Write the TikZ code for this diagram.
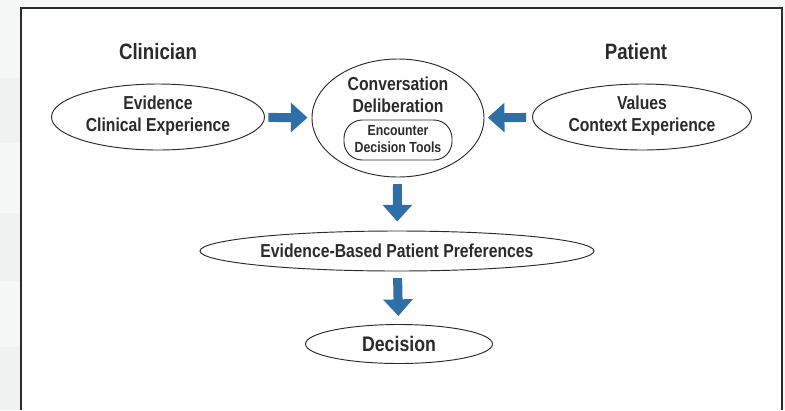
\documentclass[tikz,border=0pt]{standalone}
\usepackage{fontspec}
\setmainfont{Liberation Sans}[FakeStretch=0.84]
\usetikzlibrary{shapes.geometric,arrows.meta}

\definecolor{arrowblue}{HTML}{2F6FA8}
\definecolor{textgray}{HTML}{2B2B2B}
\definecolor{bandgray}{HTML}{F0F1F1}
\definecolor{stripgray}{HTML}{F6F7F7}

\tikzset{
  heading/.style={text=textgray, font=\bfseries\fontsize{19}{21}\selectfont},
  body/.style={text=textgray, align=center, font=\bfseries\fontsize{16}{19}\selectfont},
  small/.style={text=textgray, align=center, font=\bfseries\fontsize{12.5}{14.5}\selectfont},
  bubble/.style={draw=textgray, ellipse, line width=0.8pt, inner sep=0pt},
  toolbox/.style={draw=textgray, rounded corners=0.55cm, line width=0.8pt, inner sep=0pt,
    minimum width=3.24cm, minimum height=1.2cm},
  bluearrow/.style={draw=arrowblue, line width=0.27cm, -{Triangle[width=0.86cm,length=0.5cm]}}
}

\begin{document}
\begin{tikzpicture}[x=0.03cm, y=-0.03cm]
    \useasboundingbox (0,0) rectangle (785,410);

    % Background and frame
    \fill[stripgray] (0,0) rectangle (785,410);
    \fill[bandgray] (0,78) rectangle (21,143);
    \fill[bandgray] (0,213) rectangle (21,281);
    \fill[bandgray] (0,347) rectangle (21,410);
    \fill[white] (21,8) rectangle (782,410);
    \draw[line width=1.6pt, textgray] (21,410) -- (21,8) -- (782,8) -- (782,410);

    % Headings
    \node[heading] (clinician) at (158,52) {Clinician};
    \node[heading] (patient) at (636,52) {Patient};

    % Clinician and patient sides
    \node[bubble, minimum width=6.39cm, minimum height=1.98cm] (clin) at (158,117) {};
    \node[body] (clintext) at (158,116) {Evidence\\Clinical Experience};
    \node[bubble, minimum width=6.57cm, minimum height=1.98cm] (pat) at (642,117) {};
    \node[body] (pattext) at (642,116) {Values\\Context Experience};

    % Conversation in the middle
    \node[bubble, minimum width=5.16cm, minimum height=3.54cm] (conv) at (398,118) {};
    \node[body] (convtext) at (398,95) {Conversation\\Deliberation};
    \node[toolbox] (tools) at (398,140) {};
    \node[small] (toolstext) at (398,139) {Encounter\\Decision Tools};

    % Outcome
    \node[bubble, minimum width=11.82cm, minimum height=1.2cm] (ebpp) at (397,251) {};
    \node[body] (ebpptext) at (397,251) {Evidence-Based Patient Preferences};
    \node[bubble, minimum width=5.61cm, minimum height=1.17cm] (dec) at (399,344) {};
    \node[body, font=\bfseries\fontsize{18}{20}\selectfont] (dectext) at (399,344) {Decision};

    % Arrows
    \draw[bluearrow, shorten <=0.1cm, shorten >=0.12cm] (clin) -- (conv);
    \draw[bluearrow, shorten <=0.18cm, shorten >=0.1cm] (pat) -- (conv);
    \draw[bluearrow, shorten <=0.2cm, shorten >=0.27cm] (conv) -- (ebpp);
    \draw[bluearrow, shorten <=0.2cm, shorten >=0.24cm] (ebpp) -- (dec);
\end{tikzpicture}
\end{document}
